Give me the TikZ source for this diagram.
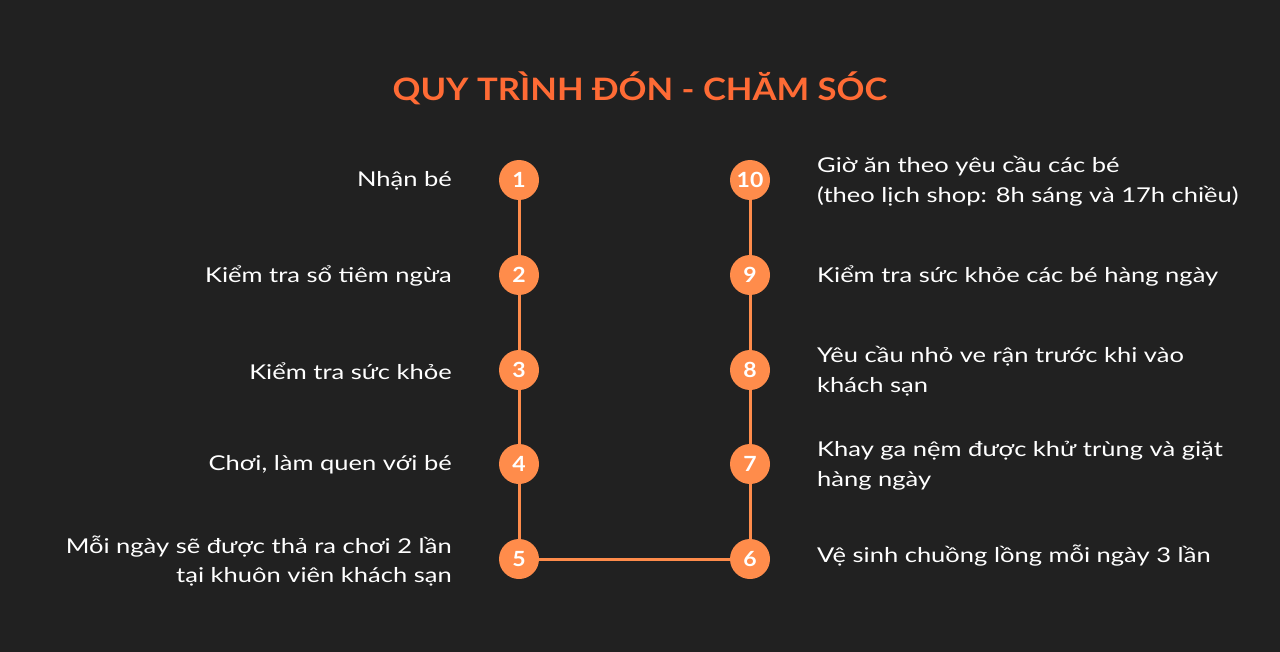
\documentclass[tikz,border=0pt]{standalone}
\usepackage{fontspec}
\setmainfont{Lato}
\newfontfamily\widefont[FakeStretch=1.25]{Lato}
\newfontfamily\titlefont[FakeStretch=1.12]{Lato}
\newfontfamily\numfont[FakeStretch=1.1]{Lato}
\definecolor{bg}{HTML}{212121}
\definecolor{ttl}{HTML}{FF6B35}
\definecolor{dot}{HTML}{FF8C4B}
\begin{document}
\begin{tikzpicture}[x=1bp,y=-1bp,
  num/.style={circle,fill=dot,minimum size=40bp,inner sep=0pt,text=white,font=\numfont\fontsize{21}{24}\selectfont\bfseries},
  lbl/.style={text=white,font=\widefont\fontsize{20.5}{30}\selectfont,inner sep=0pt},
  lft/.style={lbl,anchor=east,align=right},
  rgt/.style={lbl,anchor=west,align=left},
  conn/.style={draw=dot,line width=3bp}]
\fill[bg] (0,0) rectangle (1280,652);
\useasboundingbox (0,0) rectangle (1280,652);
\node[text=ttl,font=\titlefont\fontsize{31}{36}\selectfont\bfseries] (title) at (640,88) {QUY TRÌNH ĐÓN - CHĂM SÓC};
\node[num] (n1) at (519,180) {1};
\node[num] (n2) at (519,275) {2};
\node[num] (n3) at (519,370) {3};
\node[num] (n4) at (519,464) {4};
\node[num] (n5) at (519,559) {5};
\node[num] (n6) at (750,559) {6};
\node[num] (n7) at (750,464) {7};
\node[num] (n8) at (750,370) {8};
\node[num] (n9) at (750,275) {9};
\node[num] (n10) at (750,180) {10};
\draw[conn] (n1) -- (n2);
\draw[conn] (n2) -- (n3);
\draw[conn] (n3) -- (n4);
\draw[conn] (n4) -- (n5);
\draw[conn] (n5) -- (n6);
\draw[conn] (n6) -- (n7);
\draw[conn] (n7) -- (n8);
\draw[conn] (n8) -- (n9);
\draw[conn] (n9) -- (n10);
\node[lft] (t1) at (452,181) {Nhận bé};
\node[lft] (t2) at (452,276) {Kiểm tra sổ tiêm ngừa};
\node[lft] (t3) at (452,371) {Kiểm tra sức khỏe};
\node[lft] (t4) at (452,465) {Chơi, làm quen với bé};
\node[lft] (t5) at (452,561) {Mỗi ngày sẽ được thả ra chơi 2 lần\\tại khuôn viên khách sạn};
\node[rgt] (t6) at (817,556) {Vệ sinh chuồng lồng mỗi ngày 3 lần};
\node[rgt] (t7) at (817,466) {Khay ga nệm được khử trùng và giặt\\hàng ngày};
\node[rgt] (t8) at (817,371) {Yêu cầu nhỏ ve rận trước khi vào\\khách sạn};
\node[rgt] (t9) at (817,276) {Kiểm tra sức khỏe các bé hàng ngày};
\node[rgt] (t10) at (817,181) {Giờ ăn theo yêu cầu các bé\\(theo lịch shop: 8h sáng và 17h chiều)};
\end{tikzpicture}
\end{document}
